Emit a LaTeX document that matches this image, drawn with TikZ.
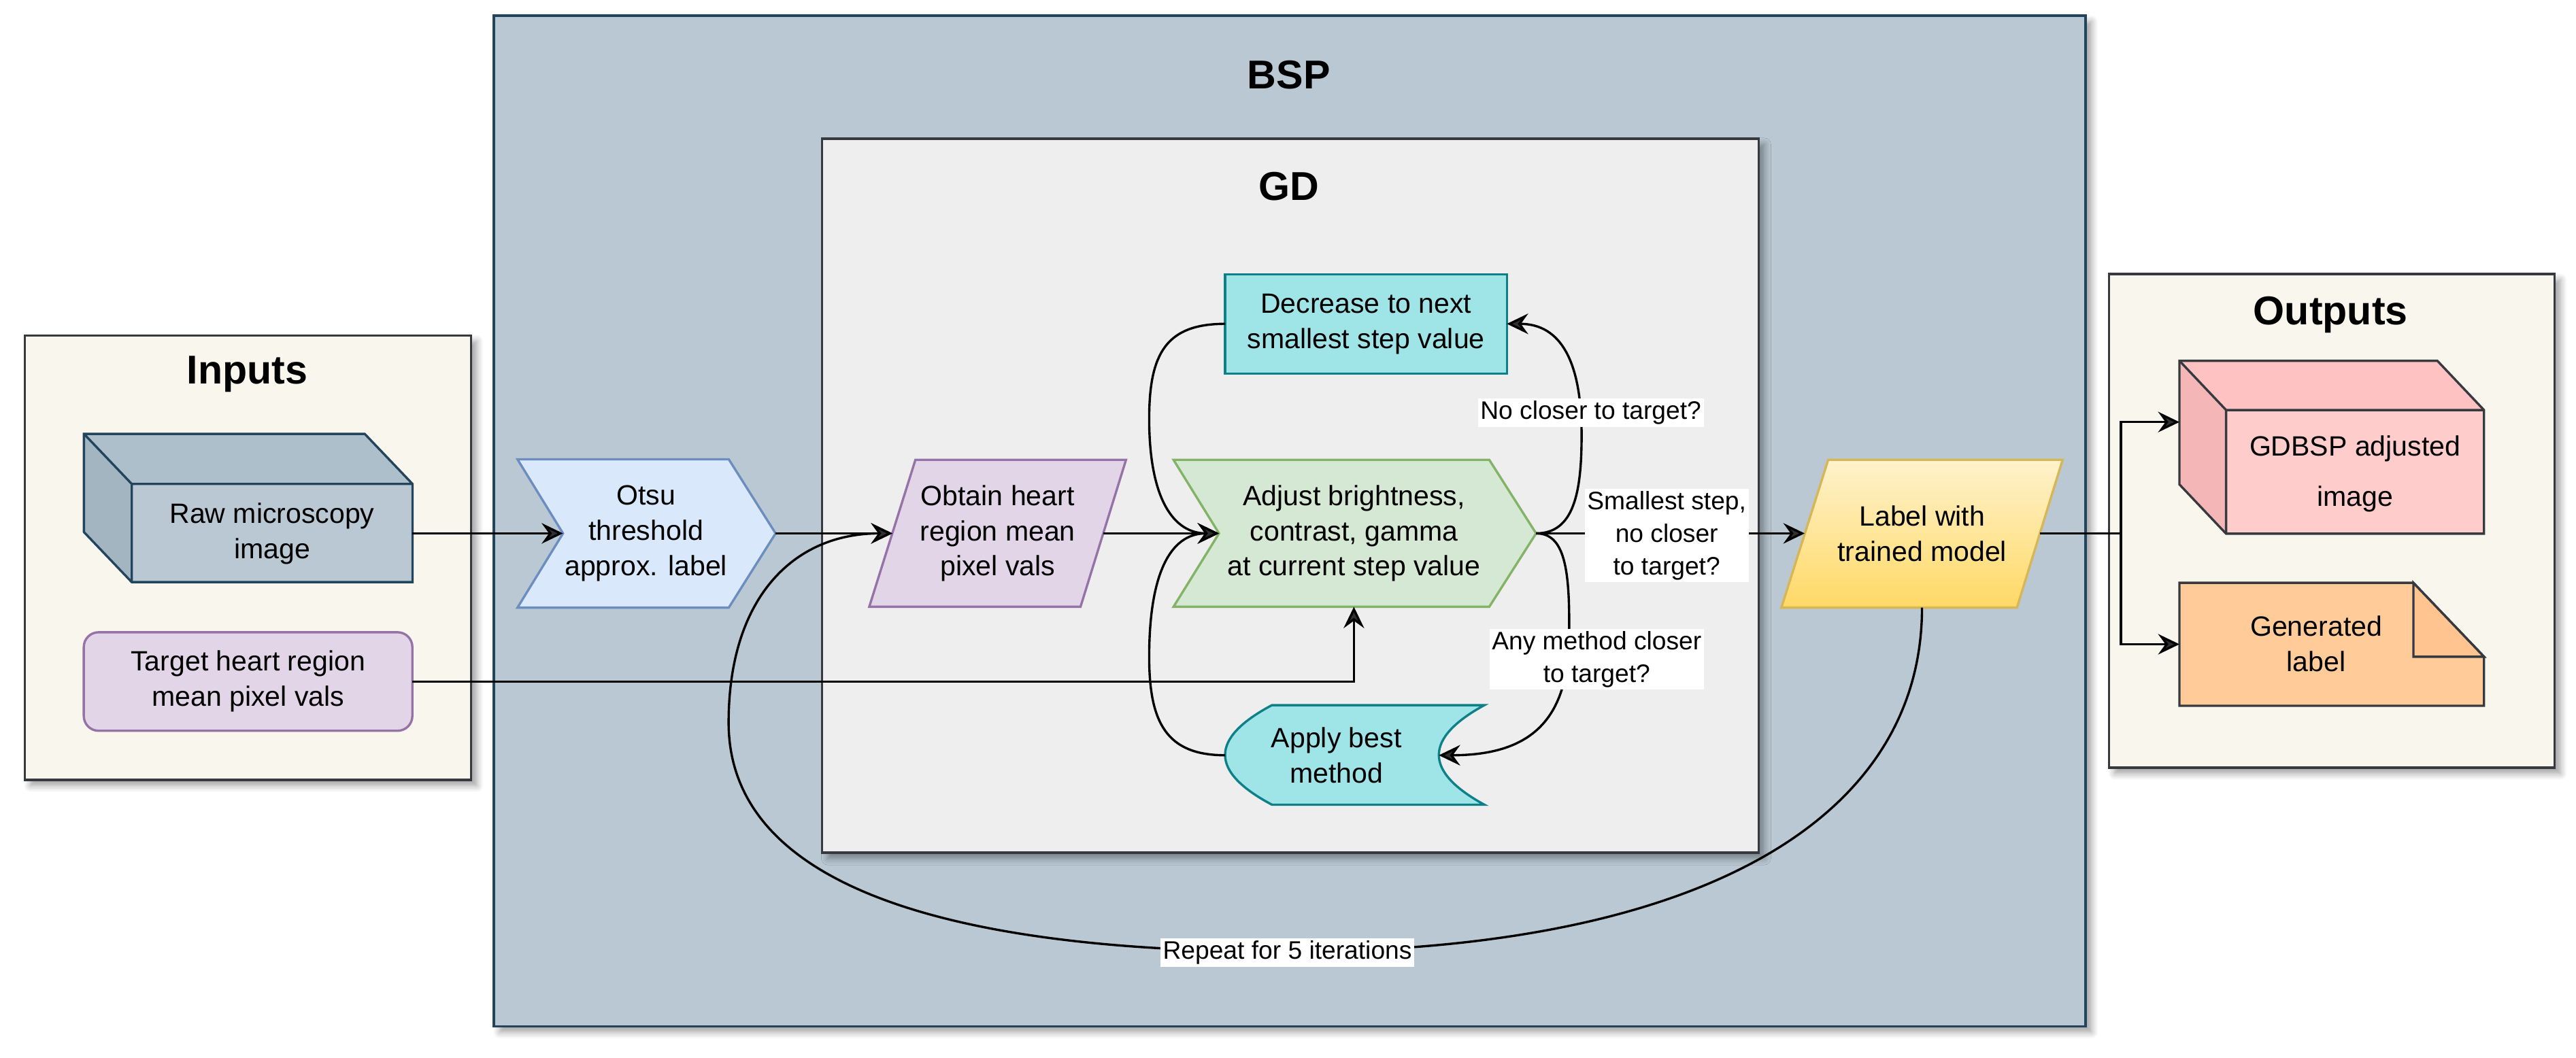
\documentclass[tikz,border=0pt]{standalone}
\usepackage{fontspec}
\setmainfont{Liberation Sans}
\usetikzlibrary{arrows.meta,shadows.blur}
\definecolor{bspfill}{HTML}{BAC8D3}
\definecolor{bspline}{HTML}{23445D}
\definecolor{gdfill}{HTML}{EEEEEE}
\definecolor{darkline}{HTML}{36393D}
\definecolor{creamfill}{HTML}{F9F7ED}
\definecolor{bluefill}{HTML}{DAE8FC}
\definecolor{blueline}{HTML}{6C8EBF}
\definecolor{purpfill}{HTML}{E1D5E7}
\definecolor{purpline}{HTML}{9673A6}
\definecolor{greenfill}{HTML}{D5E8D4}
\definecolor{greenline}{HTML}{82B366}
\definecolor{cyanfill}{HTML}{9FE5E8}
\definecolor{cyanline}{HTML}{0E8088}
\definecolor{yeltop}{HTML}{FFF2CC}
\definecolor{yelbot}{HTML}{FFD966}
\definecolor{yelline}{HTML}{D6B656}
\definecolor{rawtop}{HTML}{ADBFCB}
\definecolor{rawleft}{HTML}{A3B5C0}
\definecolor{pinkfront}{HTML}{FFCCCC}
\definecolor{pinktop}{HTML}{FFC2C2}
\definecolor{pinkleft}{HTML}{F4B6B6}
\definecolor{orangefill}{HTML}{FFCC99}
\definecolor{orangefold}{HTML}{FFC48F}
\begin{document}
\begin{tikzpicture}[x=1pt,y=-1pt,
  shp/.style={line width=1.4pt, line join=miter},
  txt/.style={align=center, font=\fontsize{17}{21.5}\selectfont, inner sep=0pt},
  ttl/.style={font=\fontsize{24.5}{28}\selectfont\bfseries, inner sep=0pt, anchor=base},
  elab/.style={fill=white, align=center, font=\fontsize{15.4}{19.7}\selectfont, inner xsep=1.5pt, inner ysep=1.5pt},
  conn/.style={line width=1.4pt, -{Stealth[length=13pt,width=12.5pt,inset=4.5pt]}},
  plainline/.style={line width=1.4pt},
  shad/.style={blur shadow={shadow xshift=3.5pt, shadow yshift=-3.5pt, shadow blur radius=4pt, shadow blur steps=8, shadow opacity=38}}
]
\useasboundingbox (0,0) rectangle (1568,644.26);

% ---------- containers ----------
\draw[shp, shad, fill=creamfill, draw=darkline] (15,204.4) rectangle (286.7,474.9);
\node[ttl] (tinputs) at (150.5,233.9) {Inputs};
\draw[shp, shad, fill=creamfill, draw=darkline] (1283.7,166.9) rectangle (1555,467.5);
\node[ttl] (toutputs) at (1418.6,197.6) {Outputs};
\draw[line width=1.6pt, shad, fill=bspfill, draw=bspline] (300.7,9.7) rectangle (1269.6,625);
\node[ttl] (tbsp) at (784.5,54.1) {BSP};
\draw[shp, shad, fill=gdfill, draw=darkline] (500.4,84.5) rectangle (1070.4,519.2);
\node[ttl] (tgd) at (784.5,121.8) {GD};

% ---------- inputs ----------
% Raw microscopy cube
\fill[bspfill] (80.2,294.7) rectangle (251.1,354.5);
\fill[rawtop] (51.1,264.2) -- (222,264.2) -- (251.1,294.7) -- (80.2,294.7) -- cycle;
\fill[rawleft] (51.1,264.2) -- (80.2,294.7) -- (80.2,354.5) -- (51.1,324) -- cycle;
\draw[shp, draw=bspline] (51.1,264.2) -- (222,264.2) -- (251.1,294.7) -- (251.1,354.5) -- (80.2,354.5) -- (51.1,324) -- cycle;
\draw[shp, draw=bspline] (51.1,264.2) -- (80.2,294.7) -- (251.1,294.7) (80.2,294.7) -- (80.2,354.5);
\node[txt] (raw) at (165.6,324.8) {Raw microscopy\\image};
\coordinate (raw-e) at (251.1,324.8);

% Target
\draw[shp, fill=purpfill, draw=purpline, rounded corners=9pt] (51,385) rectangle (251,445);
\node[txt] (target) at (151,415) {Target heart region\\mean pixel vals};
\coordinate (target-e) at (251,415);

% ---------- BSP / GD shapes ----------
% Otsu chevron
\draw[shp, fill=bluefill, draw=blueline] (315,279.7) -- (443.6,279.7) -- (472.1,324.8) -- (443.6,370) -- (315,370) -- (342.7,324.8) -- cycle;
\node[txt] (otsu) at (393.2,324.8) {Otsu\\threshold\\approx. label};
\coordinate (otsu-w) at (342.7,324.8);
\coordinate (otsu-e) at (472.1,324.8);

% Obtain parallelogram
\draw[shp, fill=purpfill, draw=purpline] (557.2,280) -- (685.4,280) -- (657.7,369.5) -- (529.1,369.5) -- cycle;
\node[txt] (obtain) at (607.3,324.8) {Obtain heart\\region mean\\pixel vals};
\coordinate (obt-w) at (543.2,324.8);
\coordinate (obt-e) at (671.5,324.8);

% Adjust chevron
\draw[shp, fill=greenfill, draw=greenline] (714.3,280) -- (906.5,280) -- (935,324.8) -- (906.5,369.5) -- (714.3,369.5) -- (742,324.8) -- cycle;
\node[txt] (adjust) at (824.2,324.8) {Adjust brightness,\\contrast, gamma\\at current step value};
\coordinate (adj-w) at (742,324.8);
\coordinate (adj-e) at (935,324.8);
\coordinate (adj-s) at (824.1,369.5);

% Decrease box
\draw[shp, fill=cyanfill, draw=cyanline] (745.7,167) rectangle (917.2,227.4);
\node[txt] (decrease) at (831.5,197.2) {Decrease to next\\smallest step value};
\coordinate (dec-w) at (745.7,197.2);
\coordinate (dec-e) at (917.2,197.2);

% Apply best method (stored data)
\draw[shp, fill=cyanfill, draw=cyanline] (774.2,429.4) -- (903.5,429.4)
  .. controls (866.6,449.6) and (866.6,469.8) .. (903.5,490) -- (774.2,490)
  .. controls (736.2,469.8) and (736.2,449.6) .. (774.2,429.4) -- cycle;
\node[txt] (apply) at (813.5,459.9) {Apply best\\method};
\coordinate (app-w) at (745.7,459.9);
\coordinate (app-e) at (875.8,459.9);

% Label with trained model
\draw[shp, top color=yeltop, bottom color=yelbot, draw=yelline] (1112.8,280) -- (1255.5,280) -- (1227.7,370) -- (1084.3,370) -- cycle;
\node[txt] (label) at (1170,324.8) {Label with\\trained model};
\coordinate (lab-w) at (1098.5,324.8);
\coordinate (lab-e) at (1241.6,324.8);
\coordinate (lab-s) at (1169.9,370);

% ---------- outputs ----------
% GDBSP cube
\fill[pinkfront] (1355,249.7) rectangle (1512,325);
\fill[pinktop] (1326.6,219.7) -- (1483.6,219.7) -- (1512,249.7) -- (1355,249.7) -- cycle;
\fill[pinkleft] (1326.6,219.7) -- (1355,249.7) -- (1355,325) -- (1326.6,295) -- cycle;
\draw[shp, draw=darkline] (1326.6,219.7) -- (1483.6,219.7) -- (1512,249.7) -- (1512,325) -- (1355,325) -- (1326.6,295) -- cycle;
\draw[shp, draw=darkline] (1326.6,219.7) -- (1355,249.7) -- (1512,249.7) (1355,249.7) -- (1355,325);
\node[txt] (gdbsp) at (1433.5,288.5) {GDBSP adjusted\\[9pt]image};
\coordinate (gdbsp-w) at (1326.6,257);

% Generated label note
\draw[shp, fill=orangefill, draw=darkline] (1326.6,354.9) -- (1469,354.9) -- (1512,399.9) -- (1512,429.8) -- (1326.6,429.8) -- cycle;
\draw[shp, fill=orangefold, draw=darkline] (1469,354.9) -- (1469,399.9) -- (1512,399.9) -- cycle;
\node[txt] (genlabel) at (1409.9,392.2) {Generated\\label};
\coordinate (note-w) at (1326.6,392.3);

% ---------- connectors ----------
\draw[conn] (raw-e) -- (otsu-w);
\draw[conn] (otsu-e) -- (obt-w);
\draw[conn] (obt-e) -- (adj-w);
\draw[conn] (target-e) -| (adj-s);
\draw[conn] (adj-e) -- (lab-w);
\draw[conn] (dec-w) .. controls (710,197.2) and (699.5,215) .. (699.5,255)
  .. controls (699.5,305) and (715,324.8) .. (adj-w);
\draw[conn] (app-w) .. controls (710,459.9) and (699.5,440) .. (699.5,400)
  .. controls (699.5,350) and (712,324.8) .. (adj-w);
\draw[conn] (adj-e) .. controls (958,324.8) and (962.7,300) .. (962.7,265)
  .. controls (962.7,220) and (950,197.2) .. (dec-e);
\draw[conn] (adj-e) .. controls (952,324.8) and (956,345) .. (955,390)
  .. controls (954,440) and (930,459.9) .. (app-e);
\draw[conn] (lab-s) .. controls (1169.9,500) and (1033,579.5) .. (783,579.5)
  .. controls (553,579.5) and (443.5,530) .. (443.5,440)
  .. controls (443.5,365) and (482.1,324.8) .. (obt-w);
\coordinate (jn) at (1291,324.8);
\draw[plainline] (lab-e) -- (jn);
\draw[conn] (jn) |- (gdbsp-w);
\draw[conn] (jn) |- (note-w);

% ---------- edge labels ----------
\node[elab] (lnocloser) at (968.3,251.4) {No closer to target?};
\node[elab] (lsmallest) at (1014.5,326.2) {Smallest step,\\no closer\\to target?};
\node[elab] (lany) at (971.9,401.5) {Any method closer\\to target?};
\node[elab] (lrepeat) at (783.6,580) {Repeat for 5 iterations};
\end{tikzpicture}
\end{document}
